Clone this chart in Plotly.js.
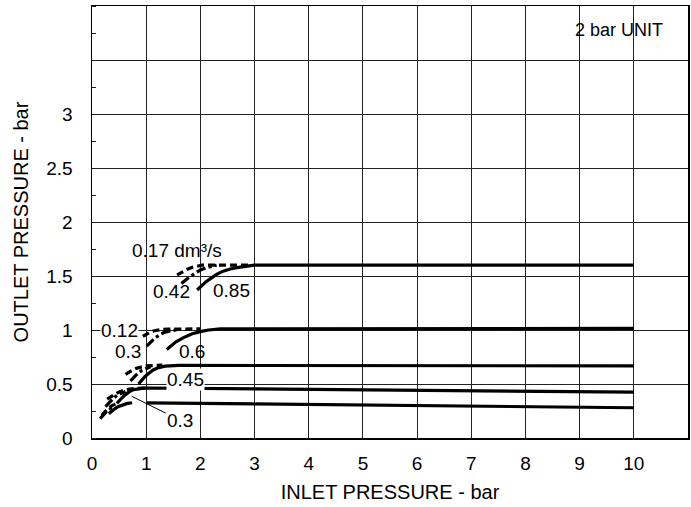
<!DOCTYPE html>
<html>
<head>
<meta charset="utf-8">
<script src="https://cdn.plot.ly/plotly-3.0.1.min.js"></script>
<style>html,body{margin:0;padding:0;background:#fff;}#chart{width:691px;height:507px;}</style>
</head>
<body>
<div id="chart"></div>
<script>
// ---- data (inlet pressure x, outlet pressure y, bar) ----
// set ~1.6 bar
const s16DashX = [1.57, 1.65, 1.75, 1.85, 1.95, 2.03, 2.4, 2.9];
const s16DashY = [1.51, 1.535, 1.56, 1.58, 1.595, 1.60, 1.60, 1.60];
const s16DotX = [1.65, 1.72, 1.8, 1.9, 2.0, 2.1, 2.3];
const s16DotY = [1.43, 1.46, 1.49, 1.525, 1.555, 1.575, 1.60];
const s16SolidX = [1.94, 2.0, 2.1, 2.2, 2.3, 2.42, 2.55, 2.7, 2.85, 3.0, 10];
const s16SolidY = [1.37, 1.40, 1.445, 1.48, 1.515, 1.545, 1.565, 1.58, 1.59, 1.60, 1.60];
// set ~1.0 bar
const s10DashX = [0.94, 1.0, 1.07, 1.15, 1.26, 1.4, 1.6, 2.0];
const s10DashY = [0.94, 0.96, 0.98, 0.993, 1.003, 1.008, 1.01, 1.01];
const s10DotX = [1.01, 1.08, 1.15, 1.23, 1.32, 1.43, 1.56];
const s10DotY = [0.85, 0.89, 0.92, 0.95, 0.974, 0.99, 1.0];
const s10SolidX = [1.38, 1.45, 1.55, 1.69, 1.85, 2.0, 2.15, 2.37, 5, 10];
const s10SolidY = [0.82, 0.85, 0.89, 0.93, 0.965, 0.985, 1.0, 1.01, 1.01, 1.015];
// set ~0.68 bar
const s07DashX = [0.62, 0.68, 0.75, 0.82, 0.9, 0.99, 1.3];
const s07DashY = [0.59, 0.61, 0.63, 0.645, 0.658, 0.668, 0.675];
const s07DotX = [0.71, 0.78, 0.85, 0.92, 1.0, 1.08];
const s07DotY = [0.53, 0.57, 0.60, 0.625, 0.645, 0.66];
const s07SolidX = [0.86, 0.92, 0.98, 1.05, 1.13, 1.23, 1.35, 1.6, 10];
const s07SolidY = [0.50, 0.54, 0.57, 0.60, 0.63, 0.652, 0.665, 0.672, 0.668];
// set ~0.45 bar
const s045DashX = [0.28, 0.34, 0.4, 0.46, 0.52, 0.6, 0.7, 0.8, 0.99];
const s045DashY = [0.36, 0.38, 0.40, 0.415, 0.43, 0.443, 0.453, 0.46, 0.463];
const s045DotX = [0.25, 0.3, 0.35, 0.41, 0.48, 0.55, 0.62];
const s045DotY = [0.29, 0.32, 0.35, 0.375, 0.40, 0.417, 0.43];
const s045SolidX = [0.46, 0.5, 0.55, 0.6, 0.65, 0.71, 0.77, 0.85, 0.95, 1.05, 3, 6, 8, 10];
const s045SolidY = [0.32, 0.345, 0.37, 0.395, 0.415, 0.435, 0.448, 0.456, 0.461, 0.463, 0.455, 0.44, 0.432, 0.425];
// set ~0.3 bar
const s03DashX = [0.18, 0.22, 0.26, 0.31, 0.37, 0.44];
const s03DashY = [0.21, 0.235, 0.26, 0.28, 0.30, 0.315];
const s03DotX = [0.15, 0.19, 0.23, 0.28, 0.34, 0.4];
const s03DotY = [0.18, 0.205, 0.23, 0.25, 0.27, 0.285];
const s03CurveX = [0.31, 0.36, 0.42, 0.48, 0.55, 0.64, 0.74];
const s03CurveY = [0.225, 0.25, 0.27, 0.29, 0.305, 0.318, 0.326];
const s03FlatX = [1.0, 3, 5, 7, 10];
const s03FlatY = [0.326, 0.316, 0.305, 0.295, 0.28];

// tick labels
const xTicks = [0,1,2,3,4,5,6,7,8,9,10];
const yTickVals = [0,0.5,1,1.5,2,2.5,3,3.5];
const yTickText = ['0','0.5','1','1.5','2','2.5','3',''];

// flow labels
const labelText = ['0.17 dm³/s','0.42','0.85','0.3','0.6','0.45'];
const labelX = [1.56, 1.47, 2.58, 0.67, 1.84, 1.72];
const labelY = [1.74, 1.355, 1.37, 0.805, 0.805, 0.545];

const FONT = 'Liberation Sans, Arial, Helvetica, sans-serif';

function tr(x, y, dash) {
  return {x: x, y: y, type: 'scatter', mode: 'lines', hoverinfo: 'skip',
    line: {color: '#000', width: 3.2, dash: dash, shape: 'linear'}};
}

const traces = [
  tr(s16DashX, s16DashY, '7px,4px'), tr(s16DotX, s16DotY, 'dashdot'), tr(s16SolidX, s16SolidY, 'solid'),
  tr(s10DashX, s10DashY, '7px,4px'), tr(s10DotX, s10DotY, 'dashdot'), tr(s10SolidX, s10SolidY, 'solid'),
  tr(s07DashX, s07DashY, '7px,4px'), tr(s07DotX, s07DotY, 'dashdot'), tr(s07SolidX, s07SolidY, 'solid'),
  tr(s045DashX, s045DashY, '7px,4px'), tr(s045DotX, s045DotY, 'dashdot'), tr(s045SolidX, s045SolidY, 'solid'),
  tr(s03DashX, s03DashY, '7px,4px'), tr(s03DotX, s03DotY, 'dashdot'), tr(s03CurveX, s03CurveY, 'solid'),
  tr(s03FlatX, s03FlatY, 'solid')
];

const annotations = labelText.map((t, i) => ({
  x: labelX[i], y: labelY[i], xref: 'x', yref: 'y', text: t, showarrow: false,
  font: {family: FONT, size: 19, color: '#000'},
  bgcolor: (t === '0.45') ? '#fff' : 'rgba(0,0,0,0)', borderpad: 0
}));
annotations.push({x: 0.5, y: 1.0, xref: 'x', yref: 'y', text: '0.12', showarrow: false,
  font: {family: FONT, size: 19, color: '#000'}, bgcolor: '#fff', borderpad: 0});
annotations.push({x: 0.73, y: 0.387, ax: 1.63, ay: 0.163, axref: 'x', ayref: 'y', xref: 'x', yref: 'y',
  text: '0.3', showarrow: true, arrowhead: 0, arrowwidth: 1, arrowcolor: '#000', standoff: 0,
  font: {family: FONT, size: 19, color: '#000'}});
annotations.push({x: 9.73, y: 3.78, xref: 'x', yref: 'y', text: '2 bar UNIT', showarrow: false,
  font: {family: FONT, size: 18, color: '#000'}});

const layout = {
  width: 691, height: 507,
  margin: {l: 92, r: 3, t: 6, b: 69},
  paper_bgcolor: '#fff', plot_bgcolor: '#fff',
  showlegend: false,
  font: {family: FONT, size: 19, color: '#000'},
  xaxis: {
    range: [0, 11], tickvals: xTicks, showgrid: true, gridcolor: '#222', gridwidth: 1,
    zeroline: false, showline: true, linecolor: '#000', linewidth: 1.5, mirror: true,
    ticks: '', ticklabelstandoff: 8,
    tickfont: {family: FONT, size: 19, color: '#000'},
    title: {text: 'INLET PRESSURE - bar', font: {family: FONT, size: 20, color: '#000'}, standoff: 11}
  },
  yaxis: {
    range: [0, 4], tickvals: yTickVals, ticktext: yTickText, showgrid: true, gridcolor: '#222', gridwidth: 1,
    zeroline: false, showline: true, linecolor: '#000', linewidth: 1.5, mirror: true,
    ticks: '', ticklabelstandoff: 14,
    minor: {dtick: 0.25, ticks: 'inside', ticklen: 4, tickcolor: '#222', showgrid: false},
    tickfont: {family: FONT, size: 19, color: '#000'},
    title: {text: 'OUTLET PRESSURE - bar', font: {family: FONT, size: 20, color: '#000'}, standoff: 12}
  },
  annotations: annotations
};

Plotly.newPlot('chart', traces, layout, {staticPlot: true, displayModeBar: false});
</script>
</body>
</html>
